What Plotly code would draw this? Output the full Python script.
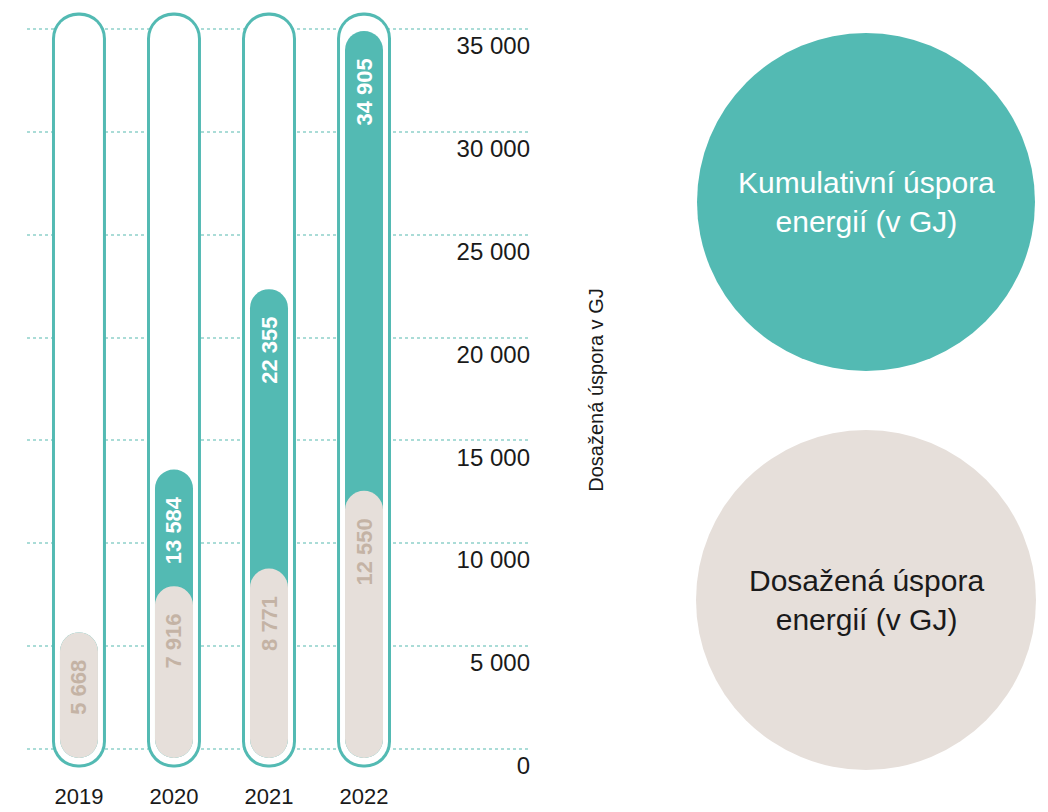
import plotly.graph_objects as go

# ---- data ----
years = ["2019", "2020", "2021", "2022"]
achieved = [5668, 7916, 8771, 12550]          # Dosažená úspora (GJ)
cumulative = [5668, 13584, 22355, 34905]      # Kumulativní úspora (GJ)
tick_values = [0, 5000, 10000, 15000, 20000, 25000, 30000, 35000]
tick_labels = ["0", "5 000", "10 000", "15 000", "20 000", "25 000", "30 000", "35 000"]

# ---- style constants ----
TEAL = "#53bab3"
BEIGE = "#e6dfda"
BEIGE_TXT = "#c4b3a5"
GRID = "#aadcd7"
FONT = "Liberation Sans"
W, H = 1040, 804            # page adds an 8px body margin
MT, MB = 0, 40
PLOT_H = H - MT - MB

track_top, track_bottom = 35800, -900   # outline track extent
border = 150                             # outline thickness in data units
inner_pad = 440                          # how far inner bars reach below zero
NB = "\u00a0" * 3                        # gap between label and bar end


def fmt(v):
    return f"{v:,}".replace(",", " ")


def capsule(top, bottom, width, color, text=None, textcolor=None):
    n = len(years)
    tops = top if isinstance(top, list) else [top] * n
    bar = go.Bar(x=years, y=[t - bottom for t in tops], base=[bottom] * n, width=width,
                 marker=dict(color=color, cornerradius="50%", line=dict(width=0)),
                 showlegend=False, hoverinfo="skip")
    if text is not None:
        bar.update(text=text, textposition="inside", insidetextanchor="end",
                   textangle=-90, constraintext="none",
                   textfont=dict(family=FONT, size=22, color=textcolor, weight="bold"))
    return [bar]


traces = []
traces += capsule(track_top, track_bottom, 0.568, TEAL)
traces += capsule(track_top - border, track_bottom + border, 0.505, "white")
cum_text = [fmt(c) + NB if c > a else "" for c, a in zip(cumulative, achieved)]
traces += capsule(cumulative, -inner_pad, 0.40, TEAL, cum_text, "white")
traces += capsule(achieved, -inner_pad, 0.40, BEIGE, [fmt(a) + NB for a in achieved], BEIGE_TXT)

fig = go.Figure(traces)

Y0_PX, Y35_PX = 741, 21             # pixel rows of 0 and 35 000 inside the figure
scale = 35000 / (Y0_PX - Y35_PX)    # data units per pixel
r1 = 35000 + (Y35_PX - MT) * scale
r0 = -((H - MB) - Y0_PX) * scale

fig.update_layout(
    width=W, height=H,
    margin=dict(l=0, r=0, t=MT, b=MB, autoexpand=False),
    paper_bgcolor="white", plot_bgcolor="white",
    barmode="overlay",
    font=dict(family=FONT, color="#1a1a1a"),
    xaxis=dict(type="category", categoryarray=years, domain=[19 / W, 522 / W],
               range=[-0.547, 4.747], showgrid=False, zeroline=False, showline=False,
               ticks="outside", ticklen=5, tickcolor="rgba(0,0,0,0)", automargin=False,
               tickfont=dict(size=22, color="#1a1a1a")),
    yaxis=dict(side="right", range=[r0, r1], tickvals=tick_values, ticktext=tick_labels,
               ticklabelposition="inside bottom", ticklabeloverflow="allow",
               ticklabelstandoff=-3, automargin=False,
               showgrid=True, griddash="dot",
               gridcolor=GRID, gridwidth=2, zeroline=False, showline=False, ticks="",
               tickfont=dict(size=24, color="#1a1a1a"),
               title=dict(text="Dosažená úspora v GJ", standoff=59,
                          font=dict(size=20, color="#1a1a1a"))),
)


def px_x(p):
    return p / W


def px_y(p):
    return ((H - MB) - p) / PLOT_H


# legend circles
circles = [(858, 194, 169, TEAL, "Kumulativní úspora<br>energií (v GJ)", "white"),
           (858, 592, 170, BEIGE, "Dosažená úspora<br>energií (v GJ)", "#1a1a1a")]
for cx, cy, r, col, txt, tcol in circles:
    fig.add_shape(type="circle", xref="paper", yref="paper",
                  x0=px_x(cx - r), x1=px_x(cx + r), y0=px_y(cy + r), y1=px_y(cy - r),
                  fillcolor=col, line=dict(width=0), layer="below")
    fig.add_annotation(xref="paper", yref="paper", x=px_x(cx), y=px_y(cy), text=txt,
                       showarrow=False, font=dict(size=30, color=tcol, family=FONT),
                       xanchor="center", yanchor="middle", align="center")

fig.write_html("out.html")
